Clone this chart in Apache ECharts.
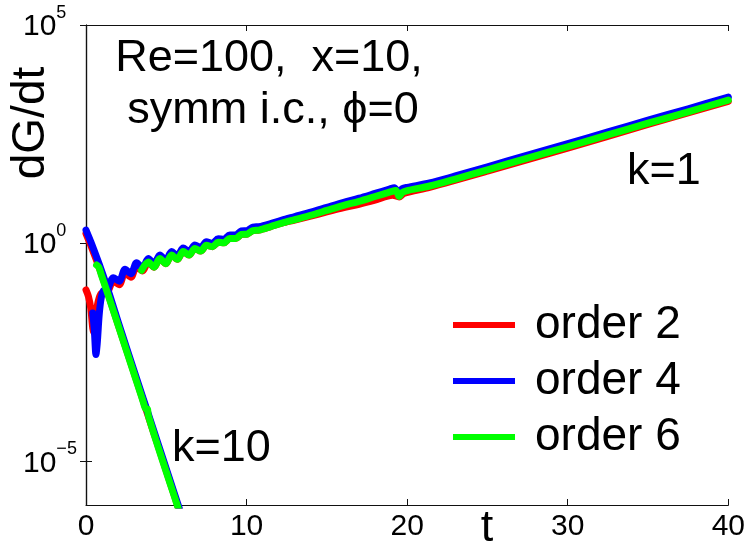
<!DOCTYPE html>
<html>
<head>
<meta charset="utf-8">
<script src="https://cdn.jsdelivr.net/npm/echarts@6/dist/echarts.min.js"></script>
<style>
  html, body { margin: 0; padding: 0; background: #fff; }
  #chart { width: 748px; height: 552px; }
</style>
</head>
<body>
<div id="chart"></div>
<script>
// dG/dt growth rates, stored as [t, log10(dG/dt)] pairs.
// k = 1 mode (growing, with early oscillations)
const k1Order2 = [
  [0, -1.07], [0.15, -1.22], [0.3, -1.5], [0.42, -1.95], [0.5, -2.05], [0.6, -1.7],
  [0.75, -1.35], [0.95, -1.15], [1.34, -1.12], [1.70, -0.87], [2.07, -0.95],
  [2.43, -0.68], [2.80, -0.78], [3.15, -0.53], [3.52, -0.64], [3.88, -0.43],
  [4.24, -0.55], [4.60, -0.35], [4.97, -0.47], [5.33, -0.27], [5.69, -0.37],
  [6.05, -0.19], [6.42, -0.27], [6.78, -0.12], [7.14, -0.18], [7.50, -0.05],
  [7.87, -0.08], [8.23, 0.02], [8.59, 0.01], [8.95, 0.11], [9.32, 0.11],
  [9.68, 0.20], [10.04, 0.21], [10.40, 0.29], [10.77, 0.30], [11.5, 0.38],
  [12.2, 0.46], [13, 0.53], [14, 0.62], [15, 0.715], [16, 0.81], [17, 0.89],
  [18, 0.985], [19.1, 1.10], [19.5, 1.06], [19.8, 1.14], [21.4, 1.28],
  [25, 1.65], [30, 2.18], [35, 2.72], [40, 3.25]
];
const k1Order4 = [
  [0.42, -1.60], [0.52, -2.0], [0.62, -2.55], [0.70, -2.3], [0.82, -1.65],
  [0.95, -1.25], [1.10, -1.08], [1.34, -1.06], [1.70, -0.79], [2.07, -0.87],
  [2.43, -0.60], [2.80, -0.70], [3.15, -0.45], [3.52, -0.56], [3.88, -0.35],
  [4.24, -0.47], [4.60, -0.27], [4.97, -0.39], [5.33, -0.19], [5.69, -0.29],
  [6.05, -0.11], [6.42, -0.19], [6.78, -0.04], [7.14, -0.10], [7.50, 0.03],
  [7.87, 0.0], [8.23, 0.10], [8.59, 0.09], [8.95, 0.19], [9.32, 0.19],
  [9.68, 0.28], [10.04, 0.29], [10.40, 0.37], [10.77, 0.38], [11.5, 0.45],
  [12.2, 0.53], [13, 0.61], [14, 0.71], [15, 0.82], [16, 0.93], [17, 1.03],
  [18, 1.14], [18.9, 1.24], [19.2, 1.27], [19.45, 1.17], [19.7, 1.25],
  [20, 1.28], [21.4, 1.38], [23, 1.54], [25, 1.75], [27.5, 2.02], [30, 2.28],
  [32.5, 2.55], [35, 2.82], [37.5, 3.08], [40, 3.35]
];
const k1Order6 = [
  [3.46, -0.62], [3.88, -0.43], [4.24, -0.55], [4.60, -0.35], [4.97, -0.47],
  [5.33, -0.27], [5.69, -0.37], [6.05, -0.19], [6.42, -0.27], [6.78, -0.12],
  [7.14, -0.18], [7.50, -0.05], [7.87, -0.08], [8.23, 0.02], [8.59, 0.01],
  [8.95, 0.11], [9.32, 0.11], [9.68, 0.20], [10.04, 0.21], [10.40, 0.29],
  [10.77, 0.30], [11.5, 0.38], [12.2, 0.46], [13, 0.54], [14, 0.64],
  [15, 0.75], [16, 0.86], [17, 0.96], [18, 1.07], [18.9, 1.17], [19.3, 1.21],
  [19.5, 1.07], [19.7, 1.16], [19.95, 1.20], [21.4, 1.31], [23, 1.47],
  [25, 1.68], [27.5, 1.95], [30, 2.21], [32.5, 2.48], [35, 2.75],
  [37.5, 3.01], [40, 3.28]
];
// k = 10 mode (decaying)
const k10Order2 = [
  [0, 0.22], [0.3, -0.05], [0.6, -0.34], [0.9, -0.64], [1.2, -0.96],
  [1.5, -1.30], [2.0, -1.86], [2.5, -2.42], [3.0, -2.98], [3.5, -3.54],
  [4.0, -4.10], [4.5, -4.66], [5.0, -5.22], [5.5, -5.78], [6.0, -6.34]
];
const k10Order4 = [
  [0, 0.30], [0.3, 0.03], [0.6, -0.26], [0.9, -0.56], [1.2, -0.88],
  [1.5, -1.22], [2.0, -1.80], [2.5, -2.37], [3.0, -2.93], [3.5, -3.49],
  [4.0, -4.05], [4.5, -4.61], [5.0, -5.17], [5.5, -5.73], [6.0, -6.29]
];
const k10Order6 = [
  [0.66, -0.50], [0.8, -0.55], [0.95, -0.72], [1.3, -1.10], [2.0, -1.88],
  [2.5, -2.44], [3.0, -3.00], [3.5, -3.56], [3.75, -3.80], [3.82, -3.80],
  [3.88, -3.95], [4.5, -4.68], [5.0, -5.24], [5.5, -5.80], [6.0, -6.36]
];

const legendNames = ['order 2', 'order 4', 'order 6'];
const orderColors = ['#ff0000', '#0000ff', '#00ff00'];
const xTicks = [0, 10, 20, 30, 40];
const yTickValues = [1e-5, 1, 1e5];
const yRange = [1e-6, 1e5];

const FONT = '"Liberation Sans", Arial, Helvetica, sans-serif';

function toPoints(arr) {
  return arr.map(p => [p[0], Math.pow(10, p[1])]);
}

function makeSeries(name, color, data) {
  return {
    type: 'line',
    name: name,
    data: toPoints(data),
    showSymbol: false,
    symbol: 'none',
    smooth: 0.3,
    clip: true,
    color: color,
    lineStyle: { color: color, width: 7, cap: 'round', join: 'round' },
    emphasis: { disabled: true }
  };
}

function expLabel(v) {
  const e = Math.round(Math.log10(v));
  const s = e < 0 ? '\u2212' + (-e) : String(e);
  return '{b|10}{e|' + s + '}';
}

const chart = echarts.init(document.getElementById('chart'), null, { renderer: 'canvas' });

const axisLine = { show: true, lineStyle: { color: '#111', width: 1.2 } };
const tickStyle = { show: true, inside: true, length: 6, lineStyle: { color: '#111', width: 1 } };

chart.setOption({
  animation: false,
  backgroundColor: '#ffffff',
  grid: { left: 86, top: 25, right: 19, bottom: 47, containLabel: false },
  legend: {
    data: legendNames,
    orient: 'vertical',
    left: 453,
    top: 299,
    padding: 0,
    icon: 'rect',
    itemWidth: 62,
    itemHeight: 6,
    itemGap: 4,
    selectedMode: false,
    lineStyle: { width: 6, cap: 'butt' },
    itemStyle: { borderWidth: 0 },
    // legend text sits 5px after the icon by default; pad it out to a 20px gap
    textStyle: { fontSize: 46, lineHeight: 52, color: '#000', fontFamily: FONT, padding: [0, 0, 0, 15] }
  },
  xAxis: [
    {
      type: 'value', min: 0, max: 40, interval: 10, position: 'bottom',
      axisLine: axisLine, axisTick: tickStyle, splitLine: { show: false },
      axisLabel: { fontSize: 30, color: '#000', fontFamily: FONT, margin: 7,
        customValues: xTicks }
    },
    {
      type: 'value', min: 0, max: 40, interval: 10, position: 'top',
      axisLine: axisLine, axisTick: tickStyle, splitLine: { show: false },
      axisLabel: { show: false }
    }
  ],
  yAxis: [
    {
      type: 'log', logBase: 10, min: yRange[0], max: yRange[1], position: 'left',
      axisLine: axisLine,
      axisTick: Object.assign({}, tickStyle, { customValues: yTickValues }),
      splitLine: { show: false }, minorTick: { show: false },
      axisLabel: {
        customValues: yTickValues,
        fontSize: 30, color: '#000', fontFamily: FONT,
        align: 'left', margin: 63, padding: [0, 0, 4, 0],
        formatter: expLabel,
        rich: {
          b: { fontSize: 30, lineHeight: 30, verticalAlign: 'bottom', color: '#000', fontFamily: FONT },
          e: { fontSize: 18, lineHeight: 38, verticalAlign: 'top', color: '#000', fontFamily: FONT }
        }
      }
    },
    {
      type: 'log', logBase: 10, min: yRange[0], max: yRange[1], position: 'right',
      axisLine: axisLine,
      axisTick: Object.assign({}, tickStyle, { customValues: yTickValues }),
      splitLine: { show: false }, minorTick: { show: false },
      axisLabel: { show: false }
    }
  ],
  series: [
    makeSeries(legendNames[0], orderColors[0], k1Order2),
    makeSeries(legendNames[0], orderColors[0], k10Order2),
    makeSeries(legendNames[1], orderColors[1], k1Order4),
    makeSeries(legendNames[1], orderColors[1], k10Order4),
    makeSeries(legendNames[2], orderColors[2], k1Order6),
    makeSeries(legendNames[2], orderColors[2], k10Order6)
  ],
  graphic: [
    { type: 'text', x: 269, y: 59, silent: true,
      style: { text: 'Re=100,  x=10,', font: '45px ' + FONT, fill: '#000',
        textAlign: 'center', textVerticalAlign: 'middle', align: 'center', verticalAlign: 'middle' } },
    { type: 'text', x: 273, y: 111, silent: true,
      style: { text: 'symm i.c., \u03D5=0', font: '45px ' + FONT, fill: '#000',
        textAlign: 'center', textVerticalAlign: 'middle', align: 'center', verticalAlign: 'middle' } },
    { type: 'text', x: 627, y: 172, silent: true,
      style: { text: 'k=1', font: '45px ' + FONT, fill: '#000',
        textAlign: 'left', textVerticalAlign: 'middle', align: 'left', verticalAlign: 'middle' } },
    { type: 'text', x: 172, y: 449, silent: true,
      style: { text: 'k=10', font: '45px ' + FONT, fill: '#000',
        textAlign: 'left', textVerticalAlign: 'middle', align: 'left', verticalAlign: 'middle' } },
    { type: 'text', x: 487, y: 529, silent: true,
      style: { text: 't', font: '45px ' + FONT, fill: '#000',
        textAlign: 'center', textVerticalAlign: 'middle', align: 'center', verticalAlign: 'middle' } },
    { type: 'text', x: 31, y: 123, rotation: Math.PI / 2, silent: true,
      style: { text: 'dG/dt', font: '46px ' + FONT, fill: '#000',
        textAlign: 'center', textVerticalAlign: 'middle', align: 'center', verticalAlign: 'middle' } }
  ]
});
</script>
</body>
</html>
